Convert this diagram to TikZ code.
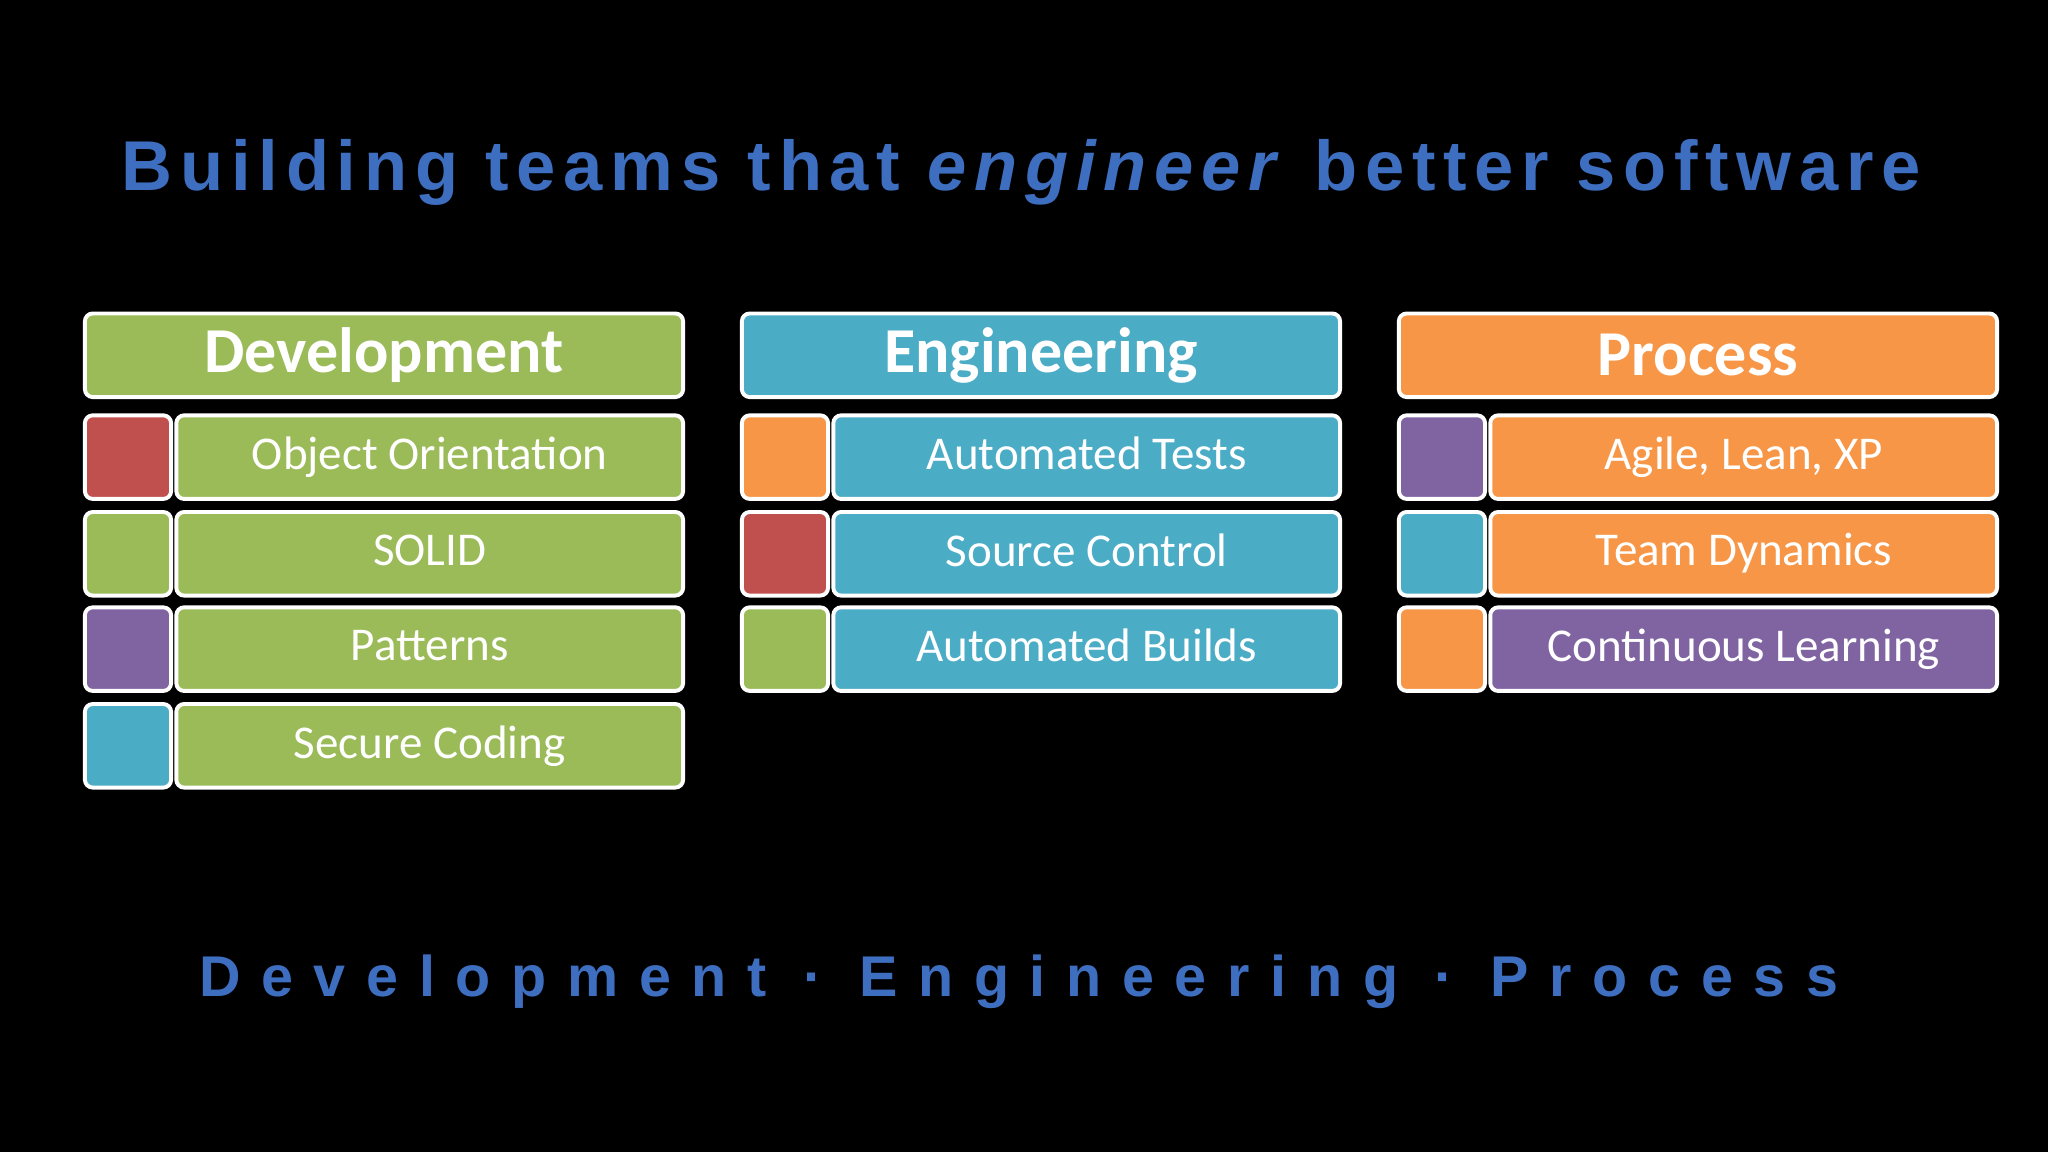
\documentclass[tikz,border=0pt]{standalone}
\usepackage{fontspec}
\setmainfont{Carlito}
\newfontfamily\titlefont[LetterSpace=11]{Liberation Sans}
\newfontfamily\subfont[LetterSpace=36]{Liberation Sans}
\definecolor{cgreen}{HTML}{9BBB59}
\definecolor{cblue}{HTML}{4BACC6}
\definecolor{corange}{HTML}{F79646}
\definecolor{cred}{HTML}{C0504D}
\definecolor{cpurple}{HTML}{8064A2}
\definecolor{ctitle}{HTML}{3E6EC0}
\tikzset{
 box/.style={draw=white,line width=3pt,rounded corners=6pt,minimum height=64pt,inner sep=0pt,text=white,font=\fontsize{36}{42}\selectfont},
 head/.style={box,font=\bfseries\fontsize{49}{55}\selectfont},
}
\begin{document}
\begin{tikzpicture}[x=1pt,y=-1pt]
\fill[black] (0,0) rectangle (1568,882);
\useasboundingbox (0,0) rectangle (1568,882);
\node[text=ctitle,font=\titlefont\bfseries\fontsize{54}{60}\selectfont] (title) at (782,132) {Building teams that \textit{engineer} better software};
\node[text=ctitle,font=\subfont\bfseries\fontsize{44}{50}\selectfont] (sub) at (780,752) {Development · Engineering · Process};
\foreach \cx/\col/\name [count=\i] in {65/cgreen/Development,568/cblue/Engineering,1071/corange/Process}{
  \node[head,fill=\col,minimum width=458pt] (h\i) at (\cx+229,272) {\name};
}
\foreach \cx/\sq/\bx/\txt/\y [count=\k] in {
 65/cred/cgreen/Object Orientation/350,
 65/cgreen/cgreen/SOLID/424,
 65/cpurple/cgreen/Patterns/497,
 65/cblue/cgreen/Secure Coding/571,
 568/corange/cblue/Automated Tests/350,
 568/cred/cblue/Source Control/424,
 568/cgreen/cblue/Automated Builds/497,
 1071/cpurple/corange/{Agile, Lean, XP}/350,
 1071/cblue/corange/Team Dynamics/424,
 1071/corange/cpurple/Continuous Learning/497}{
  \node[box,fill=\sq,minimum width=66pt] (s\k) at (\cx+33,\y) {};
  \node[box,fill=\bx,minimum width=388pt] (b\k) at (\cx+264,\y) {\txt\vphantom{Ag}};
}
\end{tikzpicture}
\end{document}
